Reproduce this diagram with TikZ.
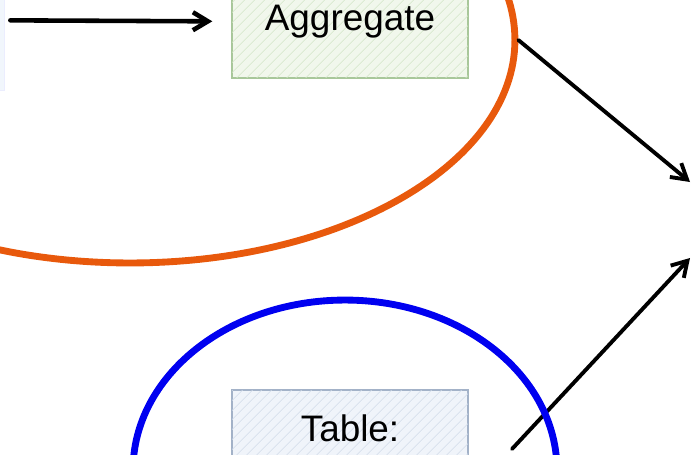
\documentclass[tikz,border=0pt]{standalone}
\usepackage{fontspec}
\setmainfont{Liberation Sans}
\usetikzlibrary{arrows.meta,shapes.geometric,patterns.meta}
\definecolor{aggfill}{HTML}{F1F7EC}
\definecolor{agghatch}{HTML}{D3E6C8}
\definecolor{aggline}{HTML}{A8C79A}
\definecolor{tabfill}{HTML}{F0F4FA}
\definecolor{tabhatch}{HTML}{D2DCEA}
\definecolor{tabline}{HTML}{A3B2C8}
\definecolor{srcfill}{HTML}{F1F6FC}
\definecolor{stageorange}{HTML}{E8590C}
\definecolor{stageblue}{HTML}{0000F0}
\tikzset{
  box/.style={draw, line width=0.8pt, minimum width=4.72cm, font=\fontsize{21}{24}\selectfont},
  arr/.style={-{Straight Barb[length=3mm,width=3.6mm]}, line width=2.2pt, line cap=round},
  ring/.style={ellipse, draw, line width=3.9pt, inner sep=0pt}
}
\begin{document}
\begin{tikzpicture}[x=0.02cm,y=-0.02cm]
  \useasboundingbox (0,0) rectangle (692,454);
  % boxes
  \node[draw=srcfill!85!blue!40, fill=srcfill, minimum width=2.56cm, minimum height=2.8cm] (src) at (-60,20) {};
  \node[box, draw=aggline, fill=aggfill, postaction={pattern={Lines[angle=45,distance=4pt,line width=0.4pt]}, pattern color=agghatch}, minimum height=2.24cm] (agg) at (350,22) {Aggregate};
  \node[box, draw=tabline, fill=tabfill, postaction={pattern={Lines[angle=45,distance=4pt,line width=0.4pt]}, pattern color=tabhatch}, minimum height=1.52cm] (tab) at (350,428) {Table:};
  % stage outlines
  \node[ring, draw=stageorange, minimum width=15.4cm, minimum height=8.92cm] (batch) at (130,40) {};
  \coordinate (out1) at (690,182);
  \coordinate (out2) at (690,258);
  \coordinate (from2) at (512,449);
  \draw[arr, line width=2.6pt, shorten <=0.12cm, shorten >=0.38cm] (src) -- (agg);
  \draw[arr] (batch.east) -- (out1);
  \draw[arr] (from2) -- (out2);
  \node[ring, draw=stageblue, minimum width=8.48cm, minimum height=6.8cm] (stream) at (345,470) {};
\end{tikzpicture}
\end{document}
